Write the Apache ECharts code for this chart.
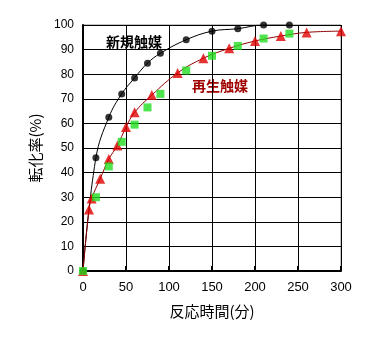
<!DOCTYPE html>
<html>
<head>
<meta charset="utf-8">
<script src="https://cdn.jsdelivr.net/npm/echarts@6/dist/echarts.min.js"></script>
<style>
  html, body { margin: 0; padding: 0; background: #fff; }
  #chart { width: 374px; height: 354px; }
</style>
</head>
<body>
<div id="chart"></div>
<script>
// 新規触媒 (black circles)
var newTime = [0, 15, 30, 45, 60, 75, 90, 120, 150, 180, 210, 240];
var newConv = [0, 46, 62.5, 72, 78.5, 84.5, 88.5, 94, 97.5, 98.5, 100, 100];
// 再生触媒 (red triangles)
var regTime = [0, 7, 10, 20, 30, 40, 50, 60, 80, 110, 140, 170, 200, 230, 260, 300];
var regConv = [0, 25, 29.5, 37.5, 45.5, 51, 58.5, 64.5, 71.5, 80.5, 86.5, 90.5, 93.5, 95.5, 97, 97.5];
// green squares
var grnTime = [0, 15, 30, 45, 60, 75, 90, 120, 150, 180, 210, 240];
var grnConv = [0, 30, 42.5, 52.5, 59.5, 66.5, 72, 81.5, 87.5, 91.5, 94.5, 96.5];

function pairs(xs, ys) {
  return xs.map(function (x, i) { return [x, ys[i]]; });
}

var myChart = echarts.init(document.getElementById('chart'));
var option = {
  animation: false,
  backgroundColor: '#fff',
  grid: {
    left: 83, top: 25, right: 33, bottom: 83,
    show: true, borderColor: '#888', borderWidth: 1
  },
  xAxis: {
    type: 'value', min: 0, max: 300, interval: 50,
    name: '反応時間(分)', nameLocation: 'middle', nameGap: 33,
    nameTextStyle: { color: '#000', fontSize: 15, fontFamily: 'Noto Sans CJK JP' },
    axisLine: { show: true, lineStyle: { color: '#000', width: 2 } },
    axisTick: { show: true, inside: true, length: 5, lineStyle: { color: '#000', width: 2 } },
    axisLabel: { color: '#000', fontSize: 13, fontFamily: 'Liberation Sans', margin: 10 },
    splitLine: { show: true, lineStyle: { color: '#000', width: 1 } }
  },
  yAxis: {
    type: 'value', min: 0, max: 100, interval: 10,
    name: '転化率(%)', nameLocation: 'middle', nameGap: 40, nameRotate: 90,
    nameTextStyle: { color: '#000', fontSize: 15, fontFamily: 'Noto Sans CJK JP' },
    axisLine: { show: true, lineStyle: { color: '#000', width: 2 } },
    axisTick: { show: false },
    axisLabel: { color: '#000', fontSize: 12, fontFamily: 'Liberation Sans', margin: 9 },
    splitLine: { show: true, lineStyle: { color: '#000', width: 1 } }
  },
  graphic: [
    { type: 'text', left: 106, top: 35,
      style: { text: '新規触媒', fill: '#000', font: 'bold 14px "Noto Sans CJK JP"' } },
    { type: 'text', left: 192, top: 79,
      style: { text: '再生触媒', fill: '#a00000', font: 'bold 14px "Noto Sans CJK JP"' } }
  ],
  series: [
    {
      type: 'line', data: pairs(newTime, newConv), smooth: 0.4, showSymbol: false,
      lineStyle: { color: '#000', width: 1 }, z: 3
    },
    {
      type: 'line', data: pairs(regTime, regConv), smooth: 0.4, showSymbol: false,
      lineStyle: { color: '#900000', width: 1 }, z: 3
    },
    {
      type: 'scatter', data: pairs(newTime, newConv), symbol: 'circle', symbolSize: 7,
      itemStyle: { color: '#000' }, z: 4
    },
    {
      type: 'scatter', data: pairs(regTime, regConv), symbol: 'triangle', symbolSize: 10,
      itemStyle: { color: '#e00000' }, z: 4
    },
    {
      type: 'scatter', data: pairs(grnTime, grnConv), symbol: 'rect', symbolSize: 8,
      itemStyle: { color: '#22dd22' }, z: 5
    }
  ]
};
myChart.setOption(option);
window.onresize = function () {
  myChart.resize();
};
</script>
</body>
</html>
